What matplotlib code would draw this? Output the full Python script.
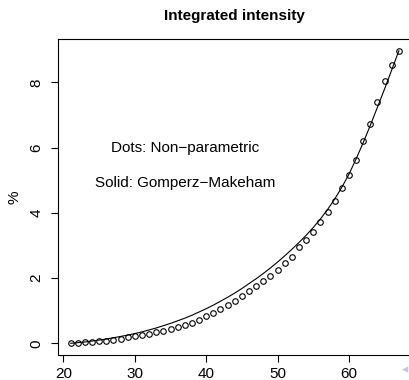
import numpy as np
import matplotlib
matplotlib.use('Agg')
import matplotlib.pyplot as plt

plt.rcParams['font.family'] = ['Liberation Sans', 'DejaVu Sans']

ages = list(range(21, 68))
nonpar = [0.00, 0.02, 0.03, 0.04, 0.06, 0.08, 0.11, 0.14, 0.18, 0.22,
          0.25, 0.29, 0.34, 0.39, 0.44, 0.49, 0.55, 0.62, 0.72, 0.85,
          0.94, 1.04, 1.17, 1.30, 1.45, 1.61, 1.77, 1.91, 2.06, 2.26,
          2.47, 2.66, 2.94, 3.16, 3.42, 3.71, 4.03, 4.37, 4.75, 5.17,
          5.61, 6.20, 6.73, 7.40, 8.05, 8.54, 8.97]
gm = [0.00, 0.02, 0.04, 0.07, 0.10, 0.13, 0.17, 0.21, 0.25, 0.30,
      0.35, 0.41, 0.47, 0.54, 0.61, 0.69, 0.77, 0.86, 0.96, 1.06,
      1.17, 1.29, 1.41, 1.54, 1.68, 1.83, 1.98, 2.14, 2.31, 2.49,
      2.68, 2.88, 3.09, 3.31, 3.55, 3.81, 4.10, 4.42, 4.78, 5.18,
      5.65, 6.15, 6.68, 7.24, 7.80, 8.38, 8.97]

fig = plt.figure(figsize=(4.1, 3.8), dpi=100)
ax = fig.add_axes([57.5/410, 25/380, (412-57.5)/410, (355-39)/380])

ax.plot(ages, nonpar, 'o', mfc='none', mec='black', ms=4, mew=0.8)
ax.plot(ages, gm, '-', color='black', lw=0.8)

xr = max(ages) - min(ages)
ax.set_xlim(min(ages) - 0.04*xr, max(ages) + 0.04*xr)
ymax = max(nonpar)
ax.set_ylim(-0.04*ymax, ymax*1.04)
ax.set_xticks([20, 30, 40, 50, 60])
ax.set_yticks([0, 2, 4, 6, 8])
ax.tick_params(direction='out', length=5, width=0.8, labelsize=11, pad=4)
ax.tick_params(axis='y', pad=5)
for lab in ax.get_yticklabels():
    lab.set_rotation(90)
    lab.set_va('center')
for s in ax.spines.values():
    s.set_linewidth(0.8)

ax.set_title('Integrated intensity', fontsize=11, fontweight='bold', pad=14)
ax.set_ylabel('%', fontsize=11, labelpad=6)

ax.text(37, 6, 'Dots: Non\u2212parametric', ha='center', va='center', fontsize=11)
ax.text(37, 4.9, 'Solid: Gomperz\u2212Makeham', ha='center', va='center', fontsize=11)

fig.text(405/410, 1 - 370/380, '\u25c2', color='#c5c5e6', fontsize=9,
         ha='center', va='center', family='DejaVu Sans')

fig.savefig('out.png', dpi=100)
